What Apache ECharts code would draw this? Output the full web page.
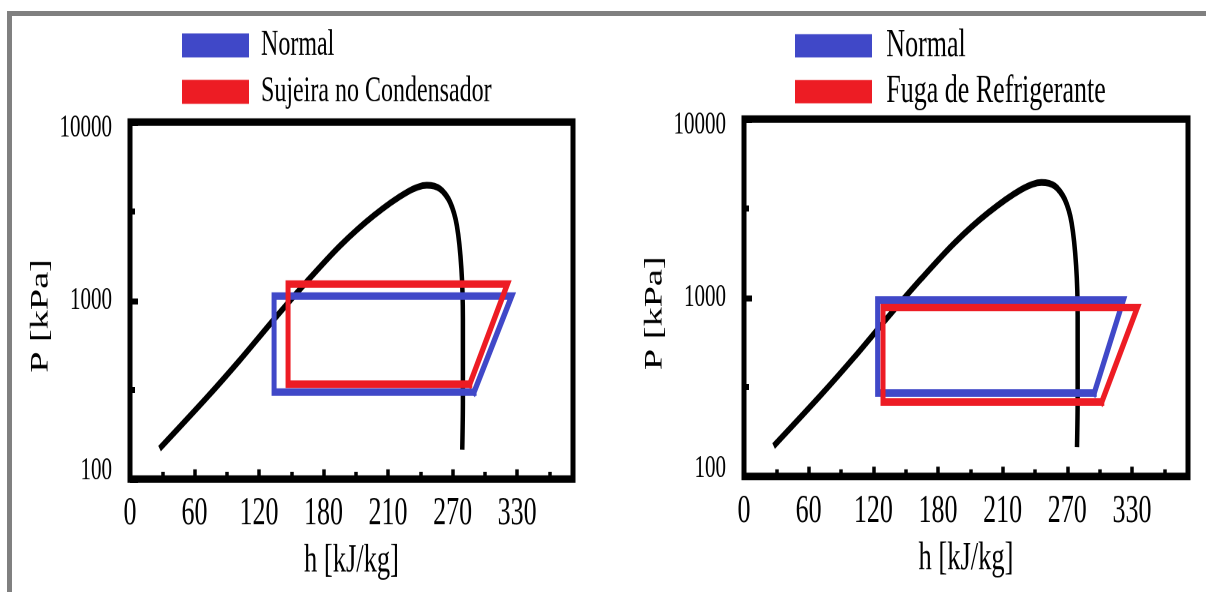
<!DOCTYPE html>
<html>
<head>
<meta charset="utf-8">
<title>Diagrama P-h</title>
<script src="https://cdn.jsdelivr.net/npm/echarts@6.0.0/dist/echarts.min.js"></script>
<style>
    html, body { margin: 0; padding: 0; background: #fff; }
    body { width: 1206px; height: 592px; overflow: hidden; position: relative; }
    #frameTop { position: absolute; z-index: 2; left: 7px; top: 11px; width: 1199px; height: 5px; background: #808080; }
    #frameLeft { position: absolute; z-index: 2; left: 7px; top: 11px; width: 5px; height: 581px; background: #808080; }
    /* o texto do original esta esticado na vertical */
    #chart { position: absolute; z-index: 1; left: 0; top: 0; width: 1206px; height: 395px; transform: scaleY(1.5); transform-origin: 0 0; }
</style>
</head>
<body>
<div id="frameTop"></div>
<div id="frameLeft"></div>
<div id="chart"></div>
<script>
// curva de saturacao (h em kJ/kg, P em kPa)
var domeH = [27.5, 71.7, 102.6, 133.6, 164.6, 195.5, 226.5, 257.5, 276, 288.5, 297.7, 304, 308.2, 309.6, 309.6, 309];
var domeP = [148, 287, 467, 780, 1280, 2030, 2985, 4040, 4420, 4215, 3550, 2625, 1505, 790, 270, 146];

// ciclo 1 - normal x sujeira no condensador
var normal1H = [320, 355, 134, 134, 320];
var normal1P = [307, 1060, 1060, 307, 307];
var sujeiraH = [316, 351, 147, 147, 316];
var sujeiraP = [340, 1237, 1237, 340, 340];

// ciclo 2 - normal x fuga de refrigerante
var normal2H = [325, 352, 124, 124, 325];
var normal2P = [293, 971, 971, 293, 293];
var fugaH = [332, 365, 129, 129, 332];
var fugaP = [261, 882, 882, 261, 261];

var xTickLabels = ['0', '60', '120', '180', '210', '270', '330'];
var yTicks = [100, 1000, 10000];

var S = 1.5;           // escala vertical do container
var FONT = 'Liberation Serif';
var BLUE = '#4048c8';
var RED = '#ed1c24';

function sy(v) { return v / S; }
function pts(hs, ps) {
    return hs.map(function(h, i) { return [h, ps[i]]; });
}

var panels = [
    { left: 130, top: 122, width: 443, height: 357, legendLeft: 182, legendMid: 45.3, iconW: 67, iconH: 24, legendStep: 46.5, legendFont: 24, textPad: 7,
      names: ['Normal', 'Sujeira no Condensador'], lines: [[normal1H, normal1P], [sujeiraH, sujeiraP]] },
    { left: 744, top: 119, width: 444, height: 357.5, legendLeft: 795, legendMid: 45.7, iconW: 77, iconH: 23.3, legendStep: 46, legendFont: 26, textPad: 9.3,
      names: ['Normal', 'Fuga de Refrigerante'], lines: [[normal2H, normal2P], [fugaH, fugaP]] }
];

var grid = [], xAxis = [], yAxis = [], legend = [], series = [];

panels.forEach(function(p, g) {
    grid.push({
        left: p.left, top: sy(p.top), width: p.width, height: sy(p.height),
        show: true, borderWidth: 5, borderColor: '#000', backgroundColor: 'transparent'
    });

    // eixo principal h
    xAxis.push({
        type: 'value', gridIndex: g, min: 0, max: 412, interval: 60, position: 'bottom',
        axisLine: { show: false }, splitLine: { show: false },
        axisTick: { inside: true, length: 6.5, lineStyle: { color: '#000', width: 3.5 } },
        axisLabel: {
            fontFamily: FONT, fontSize: 26, color: '#000', margin: 10.5,
            formatter: function(v) { var s = xTickLabels[v / 60]; return s === undefined ? '' : s; }
        },
        name: 'h [kJ/kg]', nameLocation: 'middle', nameGap: 40.5,
        nameTextStyle: { fontFamily: FONT, fontSize: 26.5, color: '#000' }
    });
    // ticks menores
    xAxis.push({
        type: 'value', gridIndex: g, min: 0, max: 412, interval: 30, position: 'bottom',
        axisLine: { show: false }, splitLine: { show: false }, axisLabel: { show: false },
        axisTick: { inside: true, length: 4.8, lineStyle: { color: '#000', width: 3.5 } }
    });

    yAxis.push({
        type: 'log', logBase: 10, gridIndex: g, min: yTicks[0], max: yTicks[yTicks.length - 1], position: 'left',
        axisLine: { show: false }, splitLine: { show: false },
        axisTick: { inside: true, length: 8, lineStyle: { color: '#000', width: 4 } },
        axisLabel: {
            margin: 18, fontFamily: FONT, fontSize: 21, color: '#000',
            formatter: function(v) {
                if (v === yTicks[yTicks.length - 1]) return '{top|' + v + '}';
                if (v === yTicks[0]) return '{bot|' + v + '}';
                return String(v);
            },
            rich: {
                top: { fontFamily: FONT, fontSize: 21, color: '#000', padding: [8, 0, 0, 0] },
                bot: { fontFamily: FONT, fontSize: 21, color: '#000', padding: [0, 0, 10.6, 0] }
            }
        },
        name: 'P [kPa]', nameLocation: 'middle', nameGap: 76,
        nameTextStyle: { fontFamily: FONT, fontSize: 25.5, color: '#000', padding: [0, 20.6, 0, 0] }
    });
    // ticks de meia decada
    yAxis.push({
        type: 'value', gridIndex: g, min: 2, max: 4, interval: 0.5, position: 'left',
        axisLine: { show: false }, splitLine: { show: false }, axisLabel: { show: false },
        axisTick: { inside: true, length: 5, lineStyle: { color: '#000', width: 4 } }
    });

    // altura do item da legenda = altura do texto
    legend.push({
        data: p.names, orient: 'vertical', left: p.legendLeft, top: sy(p.legendMid) - p.legendFont / 2, padding: 0,
        icon: 'rect', itemWidth: p.iconW, itemHeight: sy(p.iconH), itemGap: sy(p.legendStep) - p.legendFont,
        itemStyle: { borderWidth: 0 },
        textStyle: { fontFamily: FONT, fontSize: p.legendFont, color: '#000', padding: [0, 0, 0, p.textPad] }
    });

    series.push({
        name: 'Saturação', type: 'line', xAxisIndex: 2 * g, yAxisIndex: 2 * g,
        data: pts(domeH, domeP), smooth: 0.3, showSymbol: false, silent: true, z: 2,
        lineStyle: { color: '#000', width: 4.5 }
    });
    [BLUE, RED].forEach(function(c, k) {
        series.push({
            name: p.names[k], type: 'line', xAxisIndex: 2 * g, yAxisIndex: 2 * g,
            data: pts(p.lines[k][0], p.lines[k][1]), showSymbol: false, z: 3 + k,
            itemStyle: { color: c },
            lineStyle: { color: c, width: 5, join: 'miter', cap: 'square' }
        });
    });
});

var myChart = echarts.init(document.getElementById('chart'), null, { renderer: 'canvas', devicePixelRatio: 2 });
myChart.setOption({
    animation: false,
    backgroundColor: '#fff',
    grid: grid,
    xAxis: xAxis,
    yAxis: yAxis,
    legend: legend,
    series: series
});
</script>
</body>
</html>
